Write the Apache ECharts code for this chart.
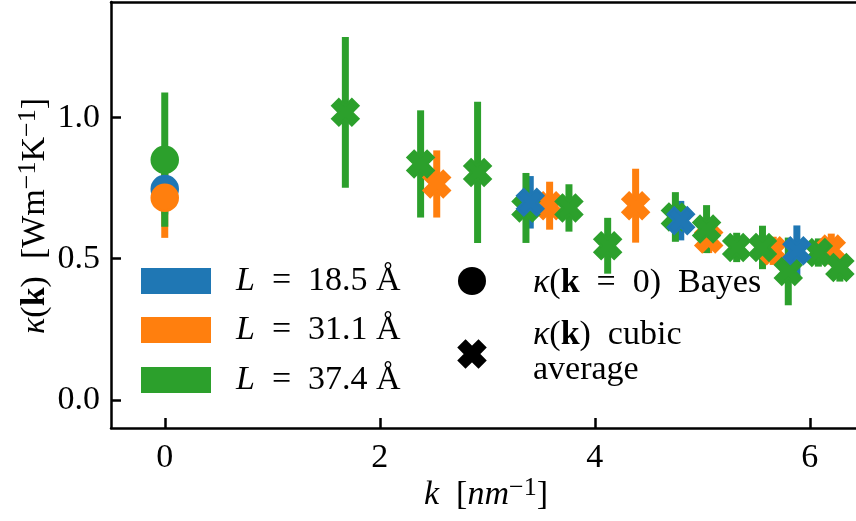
<!DOCTYPE html>
<html><head><meta charset="utf-8">
<script src="https://cdn.jsdelivr.net/npm/echarts@6/dist/echarts.min.js"></script>
<style>html,body{margin:0;padding:0;background:#fff}#c{width:856px;height:521px}</style>
</head><body><div id="c"></div>
<script>
// ---- data ----
const seriesLabels = ['18.5', '31.1', '37.4'];
const bayesK = [0, 0, 0];
const bayesVal = [0.747, 0.716, 0.851];
const bayesErr = [0.090, 0.142, 0.238];
const blueK = [3.40, 4.80, 5.88];
const blueVal = [0.700, 0.635, 0.528];
const blueErr = [0.093, 0.070, 0.090];
const orangeK = [2.53, 3.58, 4.38, 5.06, 5.66, 6.20];
const orangeVal = [0.765, 0.688, 0.688, 0.570, 0.528, 0.534];
const orangeErr = [0.119, 0.085, 0.131, 0.050, 0.050, 0.055];
const greenK = [1.68, 2.38, 2.91, 3.36, 3.76, 4.12, 4.75, 5.04, 5.32, 5.56, 5.80, 6.08, 6.28];
const greenVal = [1.019, 0.836, 0.806, 0.680, 0.680, 0.546, 0.648, 0.605, 0.540, 0.540, 0.455, 0.522, 0.469];
const greenErr = [0.267, 0.190, 0.250, 0.124, 0.084, 0.099, 0.088, 0.085, 0.052, 0.077, 0.120, 0.050, 0.050];
const xTicks = [0, 2, 4, 6];
const yTicks = [0.0, 0.5, 1.0];

const C = ['#1f77b4', '#ff7f0e', '#2ca02c'];
const FONT = 'Liberation Serif';
const FS = 34;
const XVERTS = [[-1,-2],[0,-1],[1,-2],[2,-1],[1,0],[2,1],[1,2],[0,1],[-1,2],[-2,1],[-1,0],[-2,-1]];
const XPATH = 'path://M' + XVERTS.map(p => p[0] + ',' + p[1]).join('L') + 'Z';

function errSeries(ks, vs, es, color, z) {
  return {
    type: 'custom', z: z, silent: true,
    data: ks.map((k, i) => [k, vs[i] - es[i], vs[i] + es[i]]),
    encode: {x: 0, y: [1, 2]},
    renderItem: function (params, api) {
      const lo = api.coord([api.value(0), api.value(1)]);
      const hi = api.coord([api.value(0), api.value(2)]);
      const w = 7;
      return {type: 'rect', shape: {x: lo[0] - w / 2, y: hi[1], width: w, height: lo[1] - hi[1]},
        style: {fill: color}};
    }
  };
}
function markSeries(ks, vs, color, symbol, z) {
  return {type: 'scatter', z: z, silent: true, symbol: symbol, symbolSize: 26,
    itemStyle: {color: color, opacity: 1, borderColor: color, borderWidth: 2.5},
    data: ks.map((k, i) => [k, vs[i]])};
}

const richBase = {
  m: {fontFamily: FONT, fontSize: FS, color: '#000'},
  i: {fontFamily: FONT, fontSize: FS, fontStyle: 'italic', color: '#000'},
  b: {fontFamily: FONT, fontSize: FS, fontWeight: 'bold', color: '#000'},
  s: {fontFamily: FONT, fontSize: 26, color: '#000', verticalAlign: 'top', padding: [0, 0, 14, 0]}
};

const graphic = [];
const rowY = [281, 330, 380];
for (let i = 0; i < 3; i++) {
  graphic.push({type: 'rect', shape: {x: 141, y: rowY[i] - 13, width: 70, height: 26}, style: {fill: C[i]}});
  graphic.push({type: 'text', x: 236, y: rowY[i], style: {
    text: '{i|L}{m|\u2002=\u2002' + seriesLabels[i] + ' Å}', rich: richBase, verticalAlign: 'middle', align: 'left'}});
}
graphic.push({type: 'circle', shape: {cx: 472, cy: 281, r: 14}, style: {fill: '#000'}});
graphic.push({type: 'polygon', shape: {points: XVERTS.map(p => [472 + p[0] * 6.5, 354 + p[1] * 6.5])}, style: {fill: '#000', stroke: '#000', lineWidth: 2.5}});
graphic.push({type: 'text', x: 533, y: 283, style: {text: '{i|κ}{m|(}{b|k}{m|\u2002=\u20020)\u2002Bayes}', rich: richBase, verticalAlign: 'middle'}});
graphic.push({type: 'text', x: 533, y: 335, style: {text: '{i|κ}{m|(}{b|k}{m|)\u2002cubic}', rich: richBase, verticalAlign: 'middle'}});
graphic.push({type: 'text', x: 533, y: 370, style: {text: '{m|average}', rich: richBase, verticalAlign: 'middle'}});
// axis titles
graphic.push({type: 'text', x: 486, y: 495, style: {text: '{i|k}{m|\u2002[}{i|nm}{s|−1}{m|]}', rich: richBase, align: 'center', verticalAlign: 'middle'}});
graphic.push({type: 'text', x: 35, y: 216, rotation: Math.PI / 2, style: {text: '{i|κ}{m|(}{b|k}{m|)\u2002[Wm}{s|−1}{m|K}{s|−1}{m|]}', rich: richBase, align: 'center', verticalAlign: 'middle'}});

const axisLineStyle = {color: '#000', width: 2.5};
const option = {
  animation: false,
  backgroundColor: '#fff',
  grid: {left: 111, right: 0, top: 2, bottom: 93, containLabel: false},
  xAxis: [{
    type: 'value', min: -0.5, max: 6.43,
    axisLine: {show: true, onZero: false, lineStyle: axisLineStyle},
    axisTick: {show: true, inside: true, length: 10, lineStyle: axisLineStyle, customValues: xTicks},
    axisLabel: {customValues: xTicks, fontFamily: FONT, fontSize: FS, color: '#000', margin: 13, formatter: v => String(v)},
    splitLine: {show: false}
  }, {
    type: 'value', position: 'top', min: -0.5, max: 6.43,
    axisLine: {show: true, onZero: false, lineStyle: axisLineStyle},
    axisTick: {show: false}, axisLabel: {show: false}, splitLine: {show: false}
  }],
  yAxis: {
    type: 'value', min: -0.1, max: 1.41,
    axisLine: {show: true, onZero: false, lineStyle: axisLineStyle},
    axisTick: {show: true, inside: true, length: 10, lineStyle: axisLineStyle, customValues: yTicks},
    axisLabel: {customValues: yTicks, fontFamily: FONT, fontSize: FS, color: '#000', margin: 11, formatter: v => v.toFixed(1)},
    splitLine: {show: false}
  },
  graphic: graphic,
  series: [
    errSeries(bayesK.slice(0, 1).concat(blueK), [bayesVal[0]].concat(blueVal), [bayesErr[0]].concat(blueErr), C[0], 2),
    errSeries(bayesK.slice(1, 2).concat(orangeK), [bayesVal[1]].concat(orangeVal), [bayesErr[1]].concat(orangeErr), C[1], 3),
    errSeries(bayesK.slice(2, 3).concat(greenK), [bayesVal[2]].concat(greenVal), [bayesErr[2]].concat(greenErr), C[2], 4),
    markSeries([bayesK[0]], [bayesVal[0]], C[0], 'circle', 5),
    markSeries([bayesK[1]], [bayesVal[1]], C[1], 'circle', 6),
    markSeries([bayesK[2]], [bayesVal[2]], C[2], 'circle', 7),
    markSeries(orangeK, orangeVal, C[1], XPATH, 8),
    markSeries(greenK, greenVal, C[2], XPATH, 9),
    markSeries(blueK, blueVal, C[0], XPATH, 10)
  ]
};
const chart = echarts.init(document.getElementById('c'), null, {renderer: 'canvas'});
chart.setOption(option);
</script>
</body></html>
